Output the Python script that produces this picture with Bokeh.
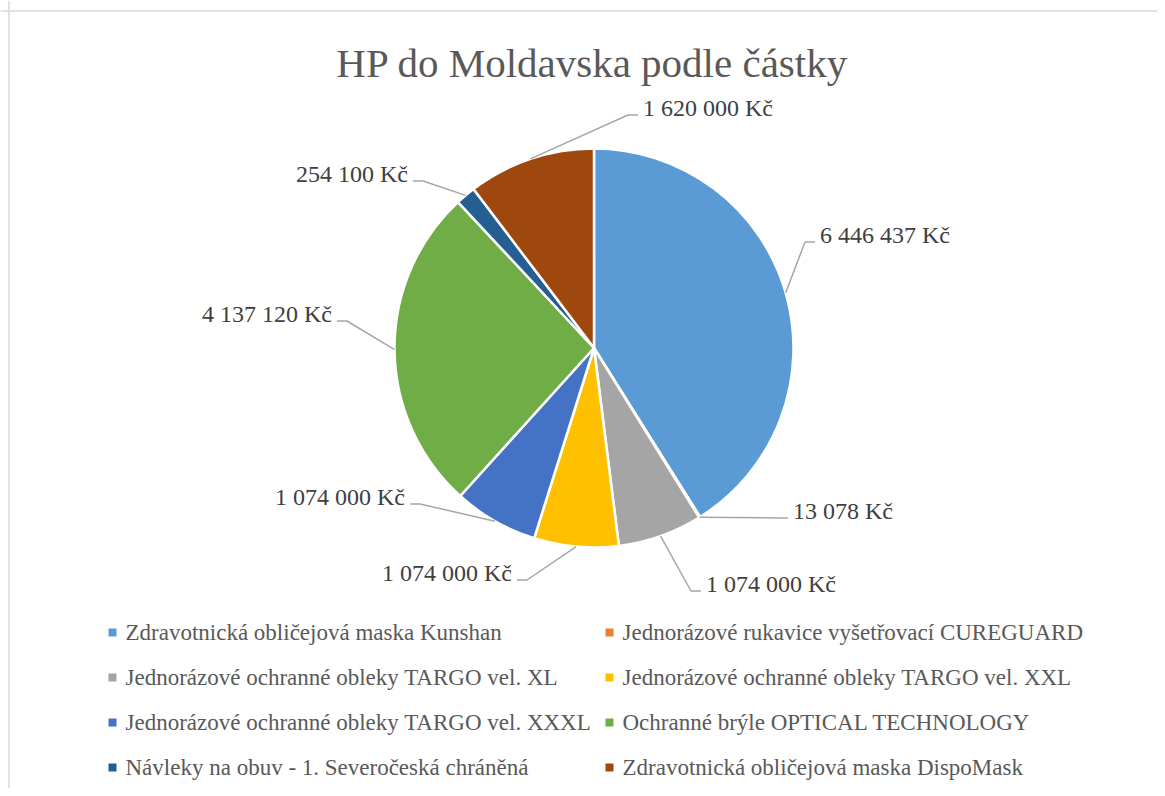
import math
from bokeh.plotting import figure
from bokeh.models import Range1d, ColumnDataSource, Span
from bokeh.core.properties import value
from bokeh.embed import file_html
from bokeh.resources import INLINE

# ---- data ----
categories = [
    "Zdravotnická obličejová maska Kunshan",
    "Jednorázové rukavice vyšetřovací CUREGUARD",
    "Jednorázové ochranné obleky TARGO vel. XL",
    "Jednorázové ochranné obleky TARGO vel. XXL",
    "Jednorázové ochranné obleky TARGO vel. XXXL",
    "Ochranné brýle OPTICAL TECHNOLOGY",
    "Návleky na obuv - 1. Severočeská chráněná",
    "Zdravotnická obličejová maska DispoMask",
]
amounts = [6446437, 13078, 1074000, 1074000, 1074000, 4137120, 254100, 1620000]
colors = ["#5B9BD5", "#ED7D31", "#A5A5A5", "#FFC000", "#4472C4", "#70AD47", "#255E91", "#9E480E"]
title_text = "HP do Moldavska podle částky"

# label elbow offsets from pie centre (pixels, y downward)
elbow_dx = [211, 184, 97, -67, -174, -247, -171, 34]
elbow_dy = [-106, 170, 243, 232, 156, -27, -167, -233]

# ---- layout (screen pixels) ----
W, H = 1157, 788
def px(X):
    return X
def py(Y):
    return H - Y

cx, cy, R = 593.5, 347.5, 199.5
FONT = "Liberation Serif"

p = figure(width=W, height=H, output_backend="svg", toolbar_location=None,
           x_range=Range1d(0, W), y_range=Range1d(0, H), min_border=0,
           outline_line_color=None, background_fill_color="white")
p.axis.visible = False
p.grid.visible = False

# frame border
p.add_layout(Span(location=px(8.5), dimension="height", line_color="#D9D9D9", line_width=1.5))
p.add_layout(Span(location=py(10.5), dimension="width", line_color="#D9D9D9", line_width=1.5))

total = float(sum(amounts))
cum = [0.0]
for a in amounts:
    cum.append(cum[-1] + a / total)
start = [math.pi / 2 - 2 * math.pi * cum[i + 1] for i in range(len(amounts))]
end = [math.pi / 2 - 2 * math.pi * cum[i] for i in range(len(amounts))]

src = ColumnDataSource(dict(start=start, end=end, color=colors, cat=categories))
p.wedge(x=px(cx), y=py(cy), radius=R, start_angle="start", end_angle="end",
        fill_color="color", line_color="white", line_width=2.5, source=src)

# data labels with leader lines
lx, ly, ltxt, lalign = [], [], [], []
for i, a in enumerate(amounts):
    mid = (cum[i] + cum[i + 1]) / 2 * 2 * math.pi
    ex = cx + R * math.sin(mid)
    ey = cy - R * math.cos(mid)
    bx = cx + elbow_dx[i]
    by = cy + elbow_dy[i]
    side = 1 if elbow_dx[i] > 0 else -1
    hx = bx + side * 10
    p.line([px(ex), px(bx), px(hx)], [py(ey), py(by), py(by)], line_color="#A6A6A6", line_width=1.5)
    lx.append(px(hx + side * 5))
    ly.append(py(by - 7))
    ltxt.append(f"{a:,}".replace(",", " ") + " Kč")
    lalign.append("left" if side > 0 else "right")

p.text(x=lx, y=ly, text=ltxt, text_align=lalign, text_baseline="middle",
       text_font=value(FONT), text_font_size="24px", text_color="#404040")

# title
p.text(x=[px(592)], y=[py(62)], text=[title_text], text_align="center", text_baseline="middle",
       text_font=value(FONT), text_font_size="41px", text_color="#595959")

# legend (2 columns)
mx, my, tx, ty = [], [], [], []
for i, c in enumerate(categories):
    col, row = i % 2, i // 2
    yc = 632 + 45 * row
    mx.append(px(112 + 497 * col))
    my.append(py(yc))
    tx.append(px(125 + 497 * col))
    ty.append(py(yc))
p.scatter(x=mx, y=my, marker="square", size=8, fill_color=colors, line_color=None)
p.text(x=tx, y=ty, text=categories, text_align="left", text_baseline="middle",
       text_font=value(FONT), text_font_size="23px", text_color="#595959")

open("out.html", "w").write(file_html(p, INLINE))
